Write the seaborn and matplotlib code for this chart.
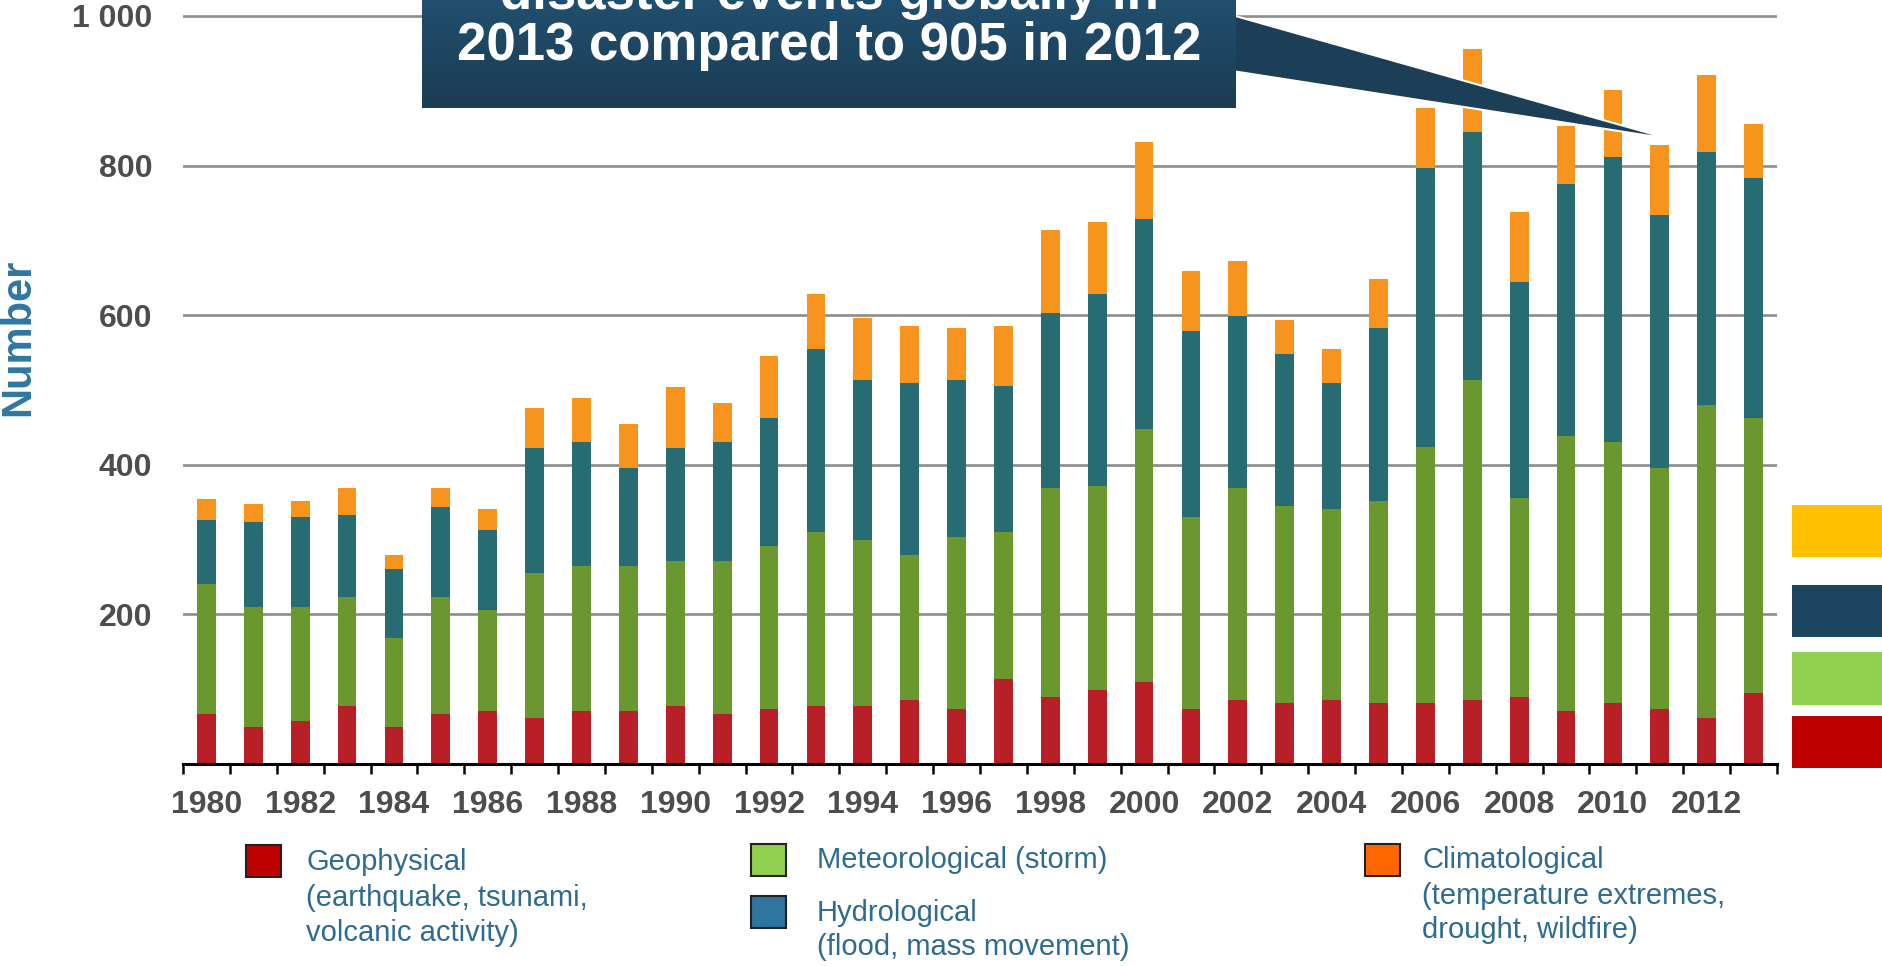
import numpy as np
import pandas as pd
import matplotlib
matplotlib.use('Agg')
import matplotlib.pyplot as plt
import seaborn as sns
from matplotlib.patches import Rectangle, Polygon
from matplotlib.colors import LinearSegmentedColormap

# Natural disaster events per year, by type
years = list(range(1980, 2014))
geophysical = [67, 50, 57, 78, 50, 67, 71, 61, 71, 71, 78, 67, 74, 78, 78, 85, 74,
               113, 89, 99, 109, 74, 85, 81, 85, 81, 81, 85, 89, 71, 81, 74, 61, 95]
meteorological = [173, 160, 153, 145, 118, 156, 135, 194, 194, 194, 193, 204, 218, 232,
                  222, 194, 229, 197, 280, 273, 339, 256, 284, 264, 256, 270, 343, 428,
                  266, 367, 350, 322, 419, 367]
hydrological = [86, 113, 120, 110, 93, 121, 107, 168, 166, 131, 152, 160, 170, 245, 213,
                231, 210, 196, 234, 256, 280, 249, 230, 203, 169, 232, 373, 332, 290, 338,
                380, 338, 338, 321]
climatological = [28, 25, 22, 36, 18, 25, 28, 53, 58, 59, 81, 51, 83, 73, 83, 76, 70, 80,
                  111, 96, 103, 80, 74, 45, 45, 65, 80, 111, 93, 77, 90, 94, 103, 73]

ytick_vals = [200, 400, 600, 800, 1000]
ytick_labels = ['200', '400', '600', '800', '1 000']

df = pd.DataFrame({
    'year': [str(y) for y in years],
    'geo': geophysical,
    'met': meteorological,
    'hyd': hydrological,
    'clim': climatological,
})
# cumulative heights for the stacked look
df['s1'] = df['geo']
df['s2'] = df['s1'] + df['met']
df['s3'] = df['s2'] + df['hyd']
df['s4'] = df['s3'] + df['clim']

W, H = 1883, 966
sns.set_theme(style='white')
plt.rcParams['font.family'] = ['Liberation Sans', 'DejaVu Sans']

fig = plt.figure(figsize=(W / 100, H / 100), dpi=100)
ax = fig.add_axes([183 / W, 1 - 764 / H, 1594 / W, (764 - 8.5) / H])

# draw tallest first so the stack shows through
for col, color in [('s4', '#f7941d'), ('s3', '#276b73'), ('s2', '#6a972f'), ('s1', '#b81f27')]:
    sns.barplot(data=df, x='year', y=col, color=color, width=0.4, saturation=1,
                errorbar=None, linewidth=0, ax=ax)

ax.set_xlim(-0.5, len(years) - 0.5)
ax.set_ylim(0, 1010)
ax.set_yticks(ytick_vals)
ax.set_yticklabels(ytick_labels)
ax.set_xticks(range(0, len(years), 2))
ax.set_xticklabels([str(y) for y in years[::2]])
ax.set_xticks(np.arange(-0.5, len(years), 1), minor=True)

tick_color = '#4d4d50'
ax.tick_params(axis='x', which='major', length=0, pad=19, labelsize=23, labelcolor=tick_color)
ax.tick_params(axis='x', which='minor', bottom=True, length=7, width=1.8, color='black',
               direction='out')
ax.tick_params(axis='y', length=0, pad=22, labelsize=23, labelcolor=tick_color)
for lbl in ax.get_xticklabels() + ax.get_yticklabels():
    lbl.set_fontweight('bold')

ax.yaxis.grid(True, color='#8c8c8c', linewidth=1.9)
ax.xaxis.grid(False)
ax.set_axisbelow(True)
sns.despine(ax=ax, left=True)
ax.spines['bottom'].set_linewidth(2.2)
ax.spines['bottom'].set_color('black')

ax.set_xlabel('')
ax.set_ylabel('Number', fontsize=30, fontweight='bold', color='#2f77a0')
ax.yaxis.set_label_coords(-0.091, 0.565)

# callout box with gradient
def fx(px):
    return px / W

def fy(py):
    return 1 - py / H

fig.add_artist(Polygon([[fx(1200), fy(6)], [fx(1670), fy(139)], [fx(1200), fy(66)]],
                       closed=True, transform=fig.transFigure, facecolor='#1c3e56',
                       edgecolor='white', linewidth=1.5, zorder=5))
cax = fig.add_axes([fx(422), fy(108), fx(1236 - 422), 108 / H])
cmap = LinearSegmentedColormap.from_list('callout', ['#214f6e', '#1b3c53'])
cax.imshow(np.linspace(0, 1, 100).reshape(-1, 1), aspect='auto', cmap=cmap,
           extent=[0, 1, 0, 1])
cax.set_axis_off()
cax.set_zorder(6)

fig.text(fx(829), fy(9), 'disaster events globally in', ha='center', va='baseline',
         fontsize=38, fontweight='bold', color='white', zorder=7)
fig.text(fx(829), fy(60), '2013 compared to 905 in 2012', ha='center', va='baseline',
         fontsize=38, fontweight='bold', color='white', zorder=7)

# colour blocks on the right edge
for y0, y1, c in [(505, 557, '#ffc000'), (585, 637, '#1c4560'),
                  (652, 705, '#92d050'), (716, 768, '#c00000')]:
    fig.add_artist(Rectangle((fx(1792), fy(y1)), fx(200), (y1 - y0) / H,
                             transform=fig.transFigure, facecolor=c, edgecolor='none'))

# legend
legend_color = '#2d6b8f'
legend_items = [
    ((246, 845), '#c00000', 306, [(862, 'Geophysical'), (898, '(earthquake, tsunami,'),
                                  (933, 'volcanic activity)')]),
    ((751, 844), '#92d050', 817, [(860, 'Meteorological (storm)')]),
    ((751, 896), '#2e75a0', 817, [(913, 'Hydrological'), (947, '(flood, mass movement)')]),
    ((1365, 844), '#ff6600', 1422, [(860, 'Climatological'), (896, '(temperature extremes,'),
                                    (930, 'drought, wildfire)')]),
]
for (x0, y0), c, tx, lines in legend_items:
    fig.add_artist(Rectangle((fx(x0), fy(y0 + 32)), 35 / W, 32 / H, transform=fig.transFigure,
                             facecolor=c, edgecolor='#222222', linewidth=1.5))
    for ty, t in lines:
        fig.text(fx(tx), fy(ty), t, ha='left', va='center', fontsize=21, color=legend_color)

plt.savefig('out.png', dpi=100)
